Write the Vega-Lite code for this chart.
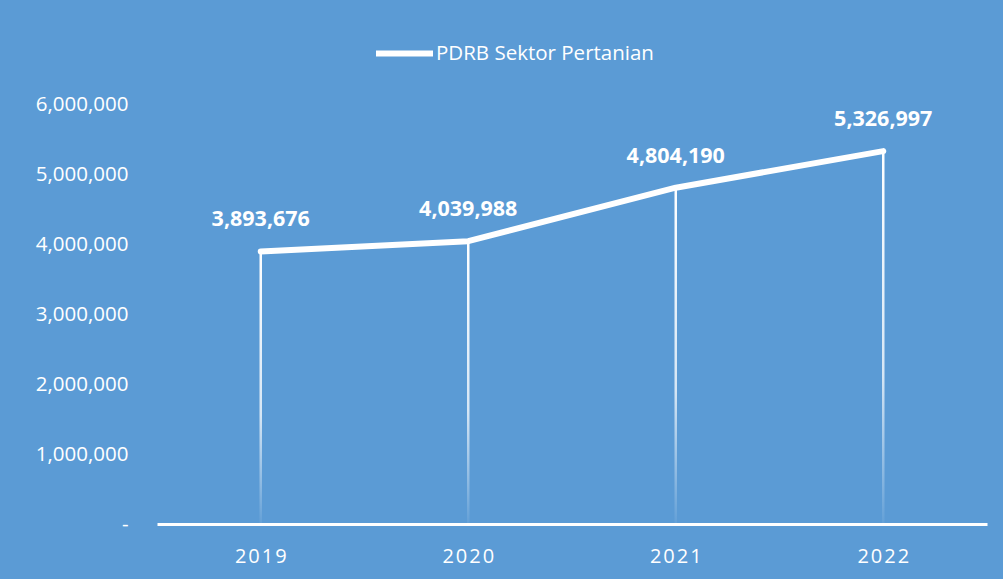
{
  "$schema": "https://vega.github.io/schema/vega-lite/v6.json",
  "width": 830,
  "height": 420,
  "autosize": "none",
  "padding": {"left": 157, "top": 104, "right": 16, "bottom": 55},
  "background": "#5B9BD5",
  "config": {
    "view": {"stroke": null},
    "font": "Open Sans"
  },
  "data": {
    "values": [
      {"year": "2019", "value": 3893676},
      {"year": "2020", "value": 4039988},
      {"year": "2021", "value": 4804190},
      {"year": "2022", "value": 5326997}
    ]
  },
  "encoding": {
    "x": {
      "field": "year",
      "type": "ordinal",
      "scale": {"type": "band", "paddingInner": 0, "paddingOuter": 0},
      "axis": {
        "title": null,
        "domainColor": "white",
        "domainWidth": 3,
        "ticks": false,
        "labelColor": "white",
        "labelFont": "Open Sans",
        "labelFontSize": 20,
        "labelPadding": 22,
        "labelAngle": 0,
        "labelExpr": "join(split(datum.label, ''), '\u200a')"
      }
    },
    "y": {
      "field": "value",
      "type": "quantitative",
      "scale": {"domain": [0, 6000000], "nice": false},
      "axis": {
        "title": null,
        "values": [0, 1000000, 2000000, 3000000, 4000000, 5000000, 6000000],
        "grid": false,
        "domain": false,
        "ticks": false,
        "labelColor": "white",
        "labelFont": "Open Sans",
        "labelFontSize": 20.5,
        "labelPadding": 29,
        "labelExpr": "datum.value == 0 ? '-' : format(datum.value, ',')"
      }
    }
  },
  "layer": [
    {
      "mark": {
        "type": "bar",
        "size": 2.5,
        "fill": {
          "gradient": "linear",
          "x1": 0, "y1": 0, "x2": 0, "y2": 1,
          "stops": [
            {"offset": 0, "color": "rgba(255,255,255,1)"},
            {"offset": 0.6, "color": "rgba(255,255,255,0.75)"},
            {"offset": 1, "color": "rgba(255,255,255,0.05)"}
          ]
        }
      }
    },
    {
      "mark": {"type": "line", "strokeWidth": 6, "strokeCap": "round", "strokeJoin": "round"},
      "encoding": {
        "color": {
          "datum": "PDRB Sektor Pertanian",
          "type": "nominal",
          "scale": {"range": ["white"]},
          "legend": {
            "title": null,
            "orient": "none",
            "legendX": 216,
            "legendY": -82,
            "symbolType": "stroke",
            "symbolSize": 3249,
            "symbolStrokeWidth": 6,
            "labelColor": "white",
            "labelFont": "Open Sans",
            "labelFontSize": 20.5,
            "labelOffset": 0,
            "labelLimit": 500
          }
        }
      }
    },
    {
      "mark": {"type": "text", "dy": -31, "fontWeight": "bold", "fontSize": 21.5, "color": "white", "font": "Open Sans"},
      "encoding": {
        "text": {"field": "value", "type": "quantitative", "format": ","}
      }
    }
  ]
}
